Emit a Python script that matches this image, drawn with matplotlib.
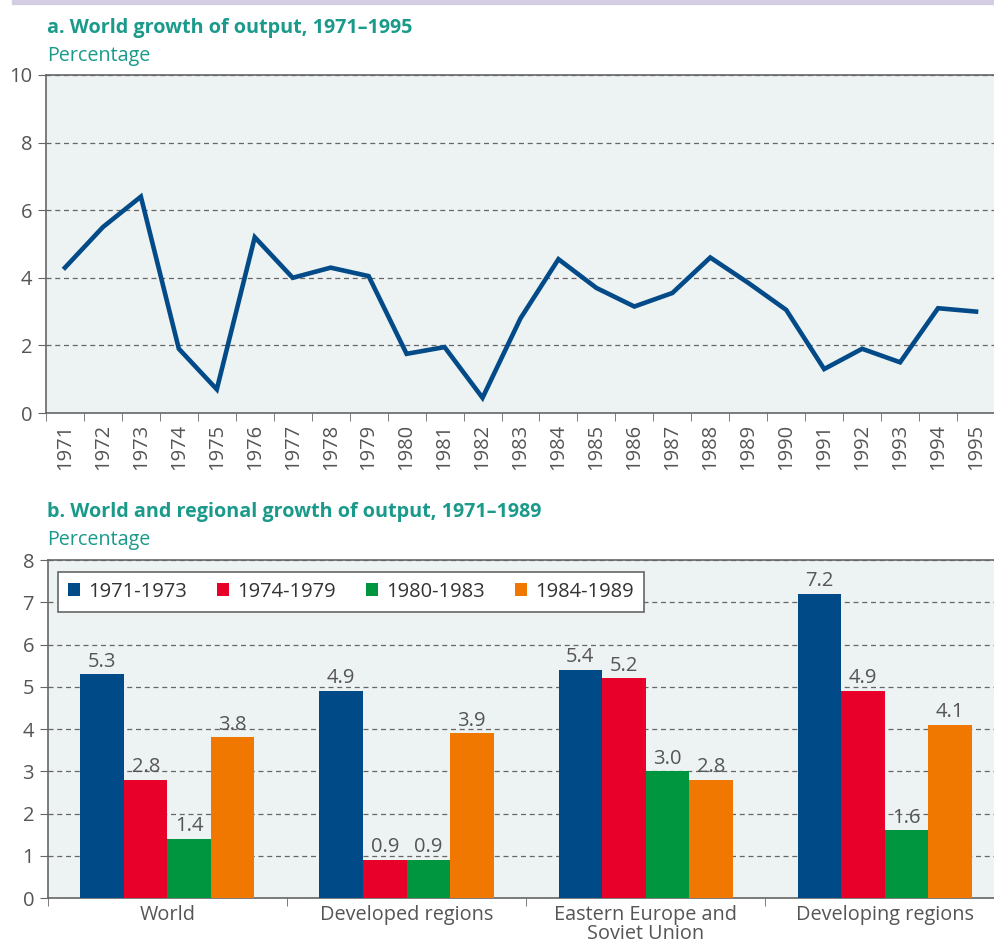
import numpy as np
import matplotlib.pyplot as plt
from matplotlib.patches import Rectangle

plt.rcParams['font.family'] = ['Open Sans', 'DejaVu Sans']

# panel a data
years = [str(y) for y in range(1971, 1996)]
growth = [4.3, 5.5, 6.4, 1.9, 0.7, 5.2, 4.0, 4.3, 4.05, 1.75, 1.95, 0.45, 2.8,
          4.55, 3.7, 3.15, 3.55, 4.6, 3.85, 3.05, 1.3, 1.9, 1.5, 3.1, 3.0]

# panel b data
regions = ['World', 'Developed regions', 'Eastern Europe and\nSoviet Union', 'Developing regions']
periods = ['1971-1973', '1974-1979', '1980-1983', '1984-1989']
p1 = [5.3, 4.9, 5.4, 7.2]
p2 = [2.8, 0.9, 5.2, 4.9]
p3 = [1.4, 0.9, 3.0, 1.6]
p4 = [3.8, 3.9, 2.8, 4.1]

colors = ['#004A87', '#E8002A', '#00963F', '#F07800']
teal = '#1A9A8A'
bg = '#EDF2F2'
gray = '#555555'

fig = plt.figure(figsize=(9.95, 9.49), dpi=100)

# purple rule at the top
fig.patches.append(Rectangle((0.012, 0.996), 0.988, 0.004, transform=fig.transFigure,
                             color='#D5CDE2', zorder=0))

def style(ax):
    ax.set_facecolor(bg)
    for s in ['left', 'bottom', 'top']:
        ax.spines[s].set_color('#666666')
        ax.spines[s].set_linewidth(1.2)
    ax.spines['right'].set_visible(False)
    ax.tick_params(axis='y', direction='out', length=6, color='#666666',
                   labelsize=14.5, labelcolor=gray, pad=4)
    ax.yaxis.grid(True, linestyle=(0, (4, 3)), color='#666666', linewidth=0.9)
    ax.set_axisbelow(True)

# ---- panel a
ax1 = fig.add_axes([0.0462, 0.5648, 0.9538, 0.3562])
style(ax1)
x = np.arange(len(years))
ax1.plot(x, growth, color='#034B88', linewidth=3.3, solid_joinstyle='miter', zorder=3)
ax1.set_yticks([0, 2, 4, 6, 8, 10])
ax1.set_xticks(x)
ax1.set_xticklabels(years, rotation=90)
ax1.set_xticks(np.arange(-0.5, len(years)), minor=True)
ax1.set_xlim(-0.5, len(years) - 0.5)
ax1.set_ylim(0, 10)
ax1.tick_params(axis='x', which='major', length=0, labelsize=14.5, labelcolor=gray, pad=8)
ax1.tick_params(axis='x', which='minor', length=6, color='#666666', direction='out')
ax1.grid(False, axis='x')

fig.text(0.047, 0.970, 'a. World growth of output, 1971–1995', color=teal,
         fontsize=14.2, fontweight='bold', va='center')
fig.text(0.047, 0.941, 'Percentage', color=teal, fontsize=14.2, va='center')

# ---- panel b
ax2 = fig.add_axes([0.0482, 0.0537, 0.9518, 0.3562])
style(ax2)
xg = np.arange(len(regions))
w = 0.182
for i, (vals, lab) in enumerate(zip([p1, p2, p3, p4], periods)):
    pos = xg + (i - 1.5) * w
    bars = ax2.bar(pos, vals, width=w, color=colors[i], label=lab, zorder=3)
    for b, v in zip(bars, vals):
        ax2.text(b.get_x() + b.get_width() / 2, v + 0.06, f'{v:.1f}', ha='center',
                 va='bottom', fontsize=14.5, color=gray, zorder=4)
ax2.set_yticks(range(9))
ax2.set_xticks(xg)
ax2.set_xticklabels(regions, linespacing=0.95)
ax2.set_xticks(np.arange(-0.5, 3), minor=True)
ax2.set_xlim(-0.5, 3.462)
ax2.set_ylim(0, 8)
ax2.tick_params(axis='x', which='major', length=0, labelsize=14.3, labelcolor=gray, pad=5)
ax2.tick_params(axis='x', which='minor', length=6, color='#666666', direction='out')

leg = ax2.legend(loc='upper left', ncol=4, frameon=True, fancybox=False,
                 fontsize=14.5, handlelength=0.6, handleheight=0.6, handletextpad=0.4,
                 columnspacing=1.5, borderpad=0.5, bbox_to_anchor=(0.0, 0.995),
                 labelcolor='#333333')
leg.get_frame().set_edgecolor('#666666')
leg.get_frame().set_linewidth(1.2)
leg.get_frame().set_facecolor('white')
leg.get_frame().set_alpha(1)

fig.text(0.047, 0.460, 'b. World and regional growth of output, 1971–1989', color=teal,
         fontsize=14.2, fontweight='bold', va='center')
fig.text(0.047, 0.431, 'Percentage', color=teal, fontsize=14.2, va='center')

fig.savefig('out.png', dpi=100)
